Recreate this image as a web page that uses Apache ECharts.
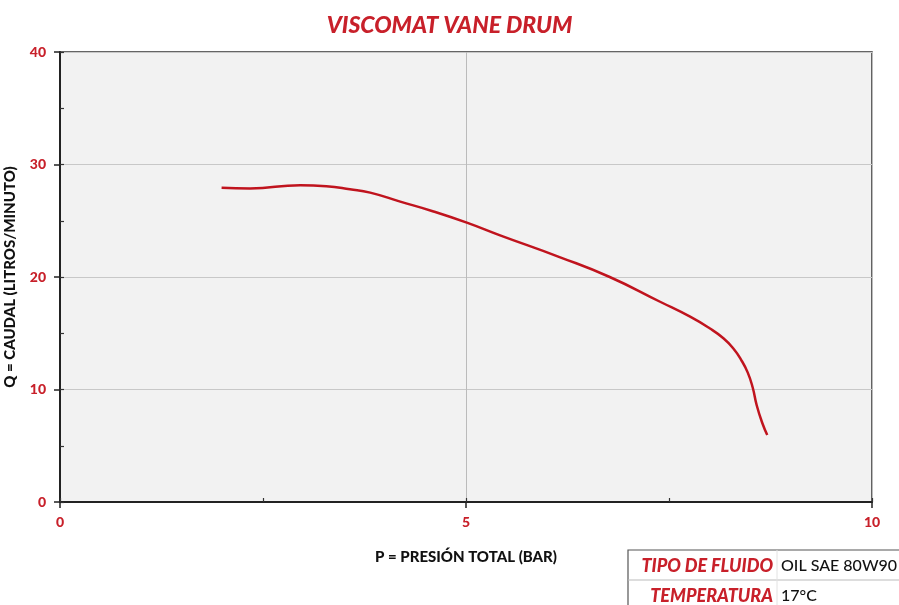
<!DOCTYPE html>
<html><head><meta charset="utf-8">
<script src="https://cdn.jsdelivr.net/npm/echarts@6/dist/echarts.min.js"></script>
<style>html,body{margin:0;padding:0;background:#fff}#c{width:899px;height:605px}</style>
</head><body><div id="c"></div>
<script>
var pressure = [1.99, 2.34, 2.96, 3.28, 3.57, 3.82, 4.19, 4.59, 5.01, 5.42, 6.16, 6.77, 7.39, 7.76, 8.00, 8.17, 8.29, 8.39, 8.47, 8.53, 8.58, 8.65, 8.71];
var flow     = [27.93, 27.87, 28.16, 28.07, 27.8, 27.5, 26.7, 25.85, 24.83, 23.7, 21.75, 20.0, 17.8, 16.47, 15.44, 14.55, 13.66, 12.62, 11.5, 10.2, 8.6, 7.0, 5.96];
var xTicks = [0, 5, 10];
var yTicks = [0, 10, 20, 30, 40];
var tableRows = [["TIPO DE FLUIDO", "OIL SAE 80W90"], ["TEMPERATURA", "17°C"]];

var red = '#c8202a';
var font = 'Lato, "Noto Sans", sans-serif';
var chart = echarts.init(document.getElementById('c'));
var data = pressure.map(function(p, i){ return [p, flow[i]]; });

var graphics = [];
var tx = 628, ty = 550, rowH = 30;
graphics.push({type:'rect', shape:{x:tx, y:ty, width:300, height:rowH*2+10}, style:{fill:'#fff', stroke:'#555', lineWidth:1.2}});
graphics.push({type:'line', shape:{x1:tx, y1:ty+rowH, x2:899, y2:ty+rowH}, style:{stroke:'#bbb', lineWidth:1}});
graphics.push({type:'line', shape:{x1:777, y1:ty, x2:777, y2:605}, style:{stroke:'#e2e2e2', lineWidth:1}});
tableRows.forEach(function(r, i){
  graphics.push({type:'text', x:773, y:ty + rowH*i + rowH/2 + 1, style:{text:r[0], fill:red, font:'italic 900 18px ' + font, align:'right', verticalAlign:'middle'}});
  graphics.push({type:'text', x:781, y:ty + rowH*i + rowH/2 + 1, style:{text:r[1], fill:'#111', font:'500 16px ' + font, align:'left', verticalAlign:'middle'}});
});

chart.setOption({
  animation:false,
  backgroundColor:'#fff',
  title:{text:'VISCOMAT VANE DRUM', left:'center', top:9, textStyle:{color:red, fontFamily:font, fontStyle:'italic', fontWeight:900, fontSize:23}},
  grid:{left:60, right:27, top:52, bottom:103, show:true, backgroundColor:'#f2f2f2', borderColor:'#333', borderWidth:1.5, containLabel:false, outerBoundsMode:'none'},
  xAxis:[{
    type:'value', min:0, max:10, interval:5,
    name:'P = PRESIÓN TOTAL (BAR)', nameLocation:'middle', nameGap:48,
    nameTextStyle:{color:'#111', fontFamily:font, fontWeight:900, fontSize:15},
    axisLine:{show:true, lineStyle:{color:'#222', width:2}},
    axisTick:{show:true, length:6, lineStyle:{color:'#222', width:1.5}},
    axisLabel:{color:red, fontFamily:font, fontWeight:900, fontSize:14, margin:13, formatter:function(v){ return xTicks.indexOf(v) >= 0 ? String(v) : ''; }},
    splitLine:{show:true, lineStyle:{color:'#bbb', width:1}}
  },{
    type:'value', min:0, max:10, interval:2.5, position:'bottom',
    axisLine:{show:false}, axisLabel:{show:false}, splitLine:{show:false},
    axisTick:{show:true, inside:true, length:4, lineStyle:{color:'#333', width:1.2}}
  }],
  yAxis:[{
    type:'value', min:0, max:40, interval:10,
    name:'Q = CAUDAL (LITROS/MINUTO)', nameLocation:'middle', nameGap:42, nameRotate:90,
    nameTextStyle:{color:'#111', fontFamily:font, fontWeight:900, fontSize:15},
    axisLine:{show:true, lineStyle:{color:'#222', width:2}},
    axisTick:{show:true, length:6, lineStyle:{color:'#222', width:1.5}},
    axisLabel:{color:red, fontFamily:font, fontWeight:900, fontSize:14, margin:14, formatter:function(v){ return yTicks.indexOf(v) >= 0 ? String(v) : ''; }},
    splitLine:{show:true, lineStyle:{color:'#c8c8c8', width:1}}
  },{
    type:'value', min:0, max:40, interval:5, position:'left',
    axisLine:{show:false}, axisLabel:{show:false}, splitLine:{show:false},
    axisTick:{show:true, inside:true, length:4, lineStyle:{color:'#333', width:1.2}}
  }],
  series:[{
    type:'line', data:data, smooth:0.5, showSymbol:false, symbol:'none',
    lineStyle:{color:'#c0141e', width:2.5}
  }],
  graphic:graphics
});
</script></body></html>
